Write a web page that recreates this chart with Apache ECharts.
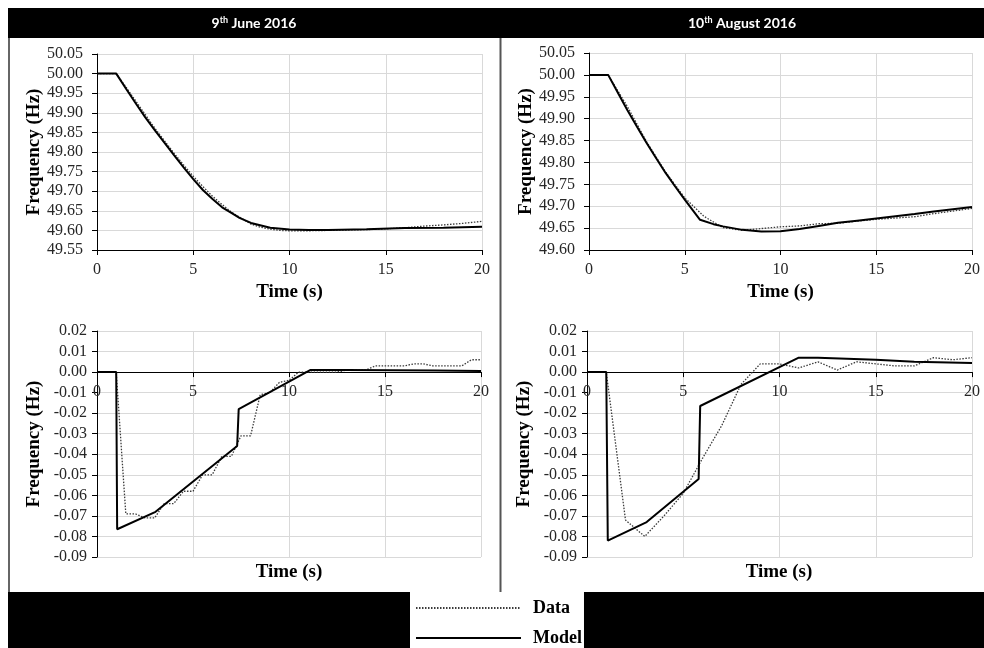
<!DOCTYPE html>
<html><head><meta charset="utf-8">
<script src="https://cdn.jsdelivr.net/npm/echarts@6/dist/echarts.min.js"></script>
<style>html,body{margin:0;padding:0;background:#fff}#c{width:984px;height:648px}</style>
</head><body><div id="c"></div>
<script>
// ---- data (time in s, frequency in Hz) ----
const juneFreqData = [[0,50],[1,50],[1.5,49.966],[2,49.931],[2.5,49.896],[3,49.861],[3.5,49.829],[4,49.797],[4.5,49.767],[5,49.738],[5.5,49.712],[6,49.687],[6.5,49.666],[7,49.646],[7.5,49.631],[8,49.616],[8.5,49.608],[9,49.603],[9.5,49.600],[10,49.599],[11,49.599],[12,49.600],[13,49.601],[14,49.602],[15,49.604],[16,49.607],[17,49.611],[18,49.614],[19,49.618],[20,49.623]];
const juneFreqModel = [[0,50],[1,50],[1.5,49.962],[2,49.925],[2.5,49.889],[3,49.856],[3.5,49.824],[4,49.792],[4.5,49.761],[5,49.731],[5.5,49.703],[6,49.680],[6.5,49.659],[7,49.644],[7.4,49.632],[8,49.619],[9,49.607],[10,49.602],[11,49.601],[12,49.601],[14,49.603],[16,49.606],[18,49.607],[20,49.609]];
const augFreqData = [[0,50],[1,50],[2,49.928],[3,49.848],[4,49.778],[5,49.719],[6,49.677],[7,49.651],[8,49.645],[9,49.649],[10,49.653],[11,49.655],[12,49.660],[13,49.661],[14,49.666],[15,49.670],[16,49.673],[17,49.676],[18,49.683],[19,49.689],[20,49.695]];
const augFreqModel = [[0,50],[1,50],[1.6,49.952],[2,49.920],[2.5,49.882],[3,49.845],[3.5,49.810],[4,49.776],[4.5,49.745],[5,49.715],[5.8,49.669],[6.5,49.659],[7,49.654],[8,49.646],[9,49.642],[10,49.643],[11,49.648],[12,49.655],[13,49.662],[14,49.667],[15,49.672],[16,49.677],[17,49.682],[18,49.688],[19,49.693],[20,49.698]];
const juneRocofData = [[0,0],[1,0],[1.5,-0.069],[2,-0.069],[2.5,-0.071],[3,-0.071],[3.5,-0.064],[4,-0.064],[4.5,-0.058],[5,-0.058],[5.5,-0.050],[6,-0.050],[6.5,-0.041],[7,-0.041],[7.5,-0.031],[8,-0.031],[8.5,-0.011],[9,-0.010],[9.5,-0.005],[10,-0.004],[10.5,0],[11,0],[11.5,0],[12,0],[12.5,0],[13,0.001],[13.5,0.001],[14,0.001],[14.5,0.003],[15,0.003],[15.5,0.003],[16,0.003],[16.5,0.004],[17,0.004],[17.5,0.003],[18,0.003],[18.5,0.003],[19,0.003],[19.5,0.006],[20,0.006]];
const juneRocofModel = [[0,0],[1,0],[1.05,-0.0765],[3.05,-0.068],[7.3,-0.036],[7.38,-0.018],[11.1,0.001],[13,0.001],[17.6,0.0008],[17.7,0.0005],[20,0.0005]];
const augRocofData = [[0,0],[1,0],[2,-0.072],[3,-0.080],[4,-0.070],[5,-0.059],[6,-0.042],[7,-0.026],[8,-0.006],[9,0.004],[10,0.004],[11,0.002],[12,0.005],[13,0.001],[14,0.005],[15,0.004],[16,0.003],[17,0.003],[18,0.007],[19,0.006],[20,0.007]];
const augRocofModel = [[0,0],[1,0],[1.08,-0.082],[3.1,-0.073],[5.8,-0.052],[5.88,-0.0165],[11,0.007],[12,0.007],[15,0.006],[17,0.005],[20,0.0044]];
const seriesNames = ['Data', 'Model'];
const panelDates = [['9', 'th', ' June 2016'], ['10', 'th', ' August 2016']];
const yRanges = [[49.55, 50.05, 0.05], [49.60, 50.05, 0.05], [-0.09, 0.02, 0.01], [-0.09, 0.02, 0.01]];
const xRange = [0, 20, 5];
const yName = 'Frequency (Hz)';
const xName = 'Time (s)';

const SERIF = 'Liberation Serif';
const grids = [
  {left: 97, right: 502, top: 54, bottom: 398},
  {left: 589, right: 12, top: 53, bottom: 398},
  {left: 97, right: 503, top: 331, bottom: 91},
  {left: 587, right: 12, top: 331, bottom: 91}
];
// bottom-row x axis sits on the zero line: shift it up from the grid bottom
function zeroOffset(g, r) {
  const h = 648 - g.top - g.bottom;
  return -h * (0 - r[0]) / (r[1] - r[0]);
}
const lbl = {fontFamily: SERIF, fontSize: 16, color: '#262626'};
const nameStyle = {fontFamily: SERIF, fontWeight: 'bold', fontSize: 19, color: '#000'};
const xAxes = [], yAxes = [];
grids.forEach((g, i) => {
  const bottomRow = i >= 2;
  xAxes.push({
    type: 'value', gridIndex: i, min: xRange[0], max: xRange[1], interval: xRange[2],
    position: 'bottom', offset: bottomRow ? zeroOffset(g, yRanges[i]) : 0,
    axisLine: {onZero: false, lineStyle: {color: '#000', width: 1}},
    axisTick: {show: true, length: 5, lineStyle: {color: '#000'}},
    axisLabel: Object.assign({margin: 12}, lbl),
    splitLine: {show: true, lineStyle: {color: '#d9d9d9', width: 1}},
    name: bottomRow ? '' : xName, nameLocation: 'middle', nameGap: 33, nameTextStyle: nameStyle
  });
  yAxes.push({
    type: 'value', gridIndex: i, min: yRanges[i][0], max: yRanges[i][1], interval: yRanges[i][2],
    axisLine: {show: true, onZero: false, lineStyle: {color: '#000', width: 1}},
    axisTick: {show: true, length: 5, lineStyle: {color: '#000'}},
    axisLabel: Object.assign({margin: bottomRow ? 10 : 14, formatter: v => (Math.abs(v) < 1e-9 ? 0 : v).toFixed(2)}, lbl),
    splitLine: {show: true, lineStyle: {color: '#d9d9d9', width: 1}},
    name: yName, nameLocation: 'middle', nameGap: 53, nameTextStyle: nameStyle
  });
});

const panelData = [[juneFreqData, juneFreqModel], [augFreqData, augFreqModel], [juneRocofData, juneRocofModel], [augRocofData, augRocofModel]];
const clear = 'rgba(0,0,0,0)';
const series = [];
panelData.forEach((pd, i) => {
  series.push({name: seriesNames[0], type: 'line', xAxisIndex: i, yAxisIndex: i, data: pd[0], symbol: 'none', showSymbol: false,
    lineStyle: {color: '#3a3a3a', width: 1.3, type: [1.5, 1.5]}, itemStyle: {color: clear, borderWidth: 0}, z: 2});
  series.push({name: seriesNames[1], type: 'line', xAxisIndex: i, yAxisIndex: i, data: pd[1], symbol: 'none', showSymbol: false,
    lineStyle: {color: '#000', width: 2}, itemStyle: {color: clear, borderWidth: 0}, z: 3});
});

const headerRich = {a: {fontFamily: 'Lato', fontWeight: 'bold', fontSize: 14, fill: '#fff'}, b: {fontFamily: 'Lato', fontWeight: 'bold', fontSize: 9, fill: '#fff', verticalAlign: 'top'}};
function headerText(d, x) {
  return {type: 'text', x: x, y: 23, z: 20, style: {text: '{a|' + d[0] + '}{b|' + d[1] + '}{a|' + d[2] + '}', rich: headerRich, align: 'center', verticalAlign: 'middle', fill: '#fff'}};
}
function bottomName(x) {
  return {type: 'text', x: x, y: 572, z: 20, style: {text: xName, font: 'bold 19px "Liberation Serif"', fill: '#000', align: 'center', verticalAlign: 'middle'}};
}

const chart = echarts.init(document.getElementById('c'), null, {renderer: 'canvas'});
chart.setOption({
  animation: false,
  backgroundColor: '#fff',
  grid: grids,
  xAxis: xAxes,
  yAxis: yAxes,
  series: series,
  legend: {
    data: seriesNames, orient: 'vertical', left: 410, top: 592, z: 30,
    itemWidth: 105, itemHeight: 18, itemGap: 12, backgroundColor: '#fff', padding: [7, 2, 1, 5],
    itemStyle: {color: clear, borderColor: clear, borderWidth: 0},
    textStyle: {fontFamily: SERIF, fontWeight: 'bold', fontSize: 18, color: '#000', padding: [0, 0, 0, 7]}
  },
  graphic: [
    {type: 'rect', z: 10, shape: {x: 8, y: 8, width: 976, height: 30}, style: {fill: '#000'}},
    {type: 'rect', z: 10, shape: {x: 8, y: 592, width: 976, height: 56}, style: {fill: '#000'}},
    {type: 'line', z: 10, shape: {x1: 9, y1: 38, x2: 9, y2: 592}, style: {stroke: '#333', lineWidth: 1.5}},
    {type: 'line', z: 10, shape: {x1: 500.5, y1: 38, x2: 500.5, y2: 592}, style: {stroke: '#555', lineWidth: 2}},
    headerText(panelDates[0], 254),
    headerText(panelDates[1], 742),
    bottomName(289),
    bottomName(779)
  ]
});
</script></body></html>
